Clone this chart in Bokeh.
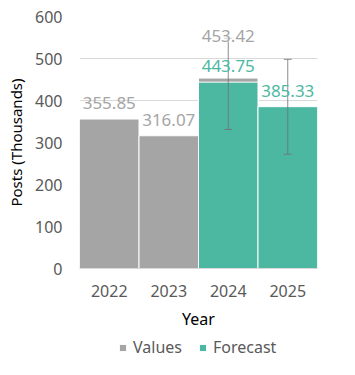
from bokeh.plotting import figure
from bokeh.layouts import column
from bokeh.models import (ColumnDataSource, FactorRange, Range1d,
                          Legend, LegendItem, FixedTicker)
from bokeh.core.properties import value
from bokeh.embed import file_html
from bokeh.resources import INLINE

years = ["2022", "2023", "2024", "2025"]
value_years = ["2022", "2023", "2024"]
value_vals = [355.85, 316.07, 453.42]
forecast_years = ["2024", "2025"]
forecast_vals = [443.75, 385.33]
forecast_lower = [331, 272]
forecast_upper = [548, 498]
y_ticks = [0, 100, 200, 300, 400, 500, 600]
series_names = ["Values", "Forecast"]

GRAY = "#a5a5a5"
TEAL = "#4db8a2"
WHISK = "#707070"
FONT = "Noto Sans"

p = figure(x_range=FactorRange(factors=years, range_padding=0),
           y_range=Range1d(0, 600),
           frame_width=238, frame_height=252,
           output_backend="svg", toolbar_location=None,
           min_border_left=79, min_border_right=38, min_border_top=16,
           min_border_bottom=66)
p.outline_line_color = None
p.background_fill_color = "white"
p.border_fill_color = "white"

vsrc = ColumnDataSource(dict(x=value_years, top=value_vals))
fsrc = ColumnDataSource(dict(x=forecast_years, top=forecast_vals,
                             lab=[f"{v:.2f}" for v in forecast_vals],
                             lower=forecast_lower, upper=forecast_upper))

rv = p.vbar(x="x", top="top", width=1.0, source=vsrc, fill_color=GRAY,
            line_color="white", line_width=1)
rf = p.vbar(x="x", top="top", width=1.0, source=fsrc, fill_color=TEAL,
            line_color="white", line_width=1)

# error bars (drawn as glyphs so labels sit on top)
p.segment(x0="x", y0="lower", x1="x", y1="upper", source=fsrc,
          line_color=WHISK, line_alpha=0.8, line_width=1)
p.scatter(x="x", y="upper", source=fsrc, marker="dash", size=8,
          line_color=WHISK, line_alpha=0.8, line_width=1)
p.scatter(x="x", y="lower", source=fsrc, marker="dash", size=8,
          line_color=WHISK, line_alpha=0.8, line_width=1)

# value labels
vsrc_a = ColumnDataSource(dict(x=value_years[:2], y=value_vals[:2],
                               lab=[f"{v:.2f}" for v in value_vals[:2]]))
vsrc_b = ColumnDataSource(dict(x=value_years[2:], y=value_vals[2:],
                               lab=[f"{v:.2f}" for v in value_vals[2:]]))
common = dict(text_align="center", text_baseline="middle",
              text_font=value(FONT), text_font_size=value("17px"))
p.text(x="x", y="y", text="lab", source=vsrc_a, y_offset=-16,
       text_color=GRAY, **common)
p.text(x="x", y="y", text="lab", source=vsrc_b, y_offset=-42,
       text_color=GRAY, background_fill_color="white", background_fill_alpha=0.6,
       **common)
p.text(x="x", y="top", text="lab", source=fsrc, y_offset=-16,
       text_color=TEAL, **common)

# grid & axes
p.xgrid.grid_line_color = None
p.ygrid.grid_line_color = "#d9d9d9"
p.ygrid.ticker = FixedTicker(ticks=y_ticks)
p.yaxis.ticker = FixedTicker(ticks=y_ticks)

for ax in (p.xaxis, p.yaxis):
    ax.major_tick_line_color = None
    ax.minor_tick_line_color = None
    ax.major_tick_out = 0
    ax.major_tick_in = 0
    ax.minor_tick_out = 0
    ax.major_label_text_font = FONT
    ax.major_label_text_font_size = "16px"
    ax.major_label_text_color = "#595959"
    ax.axis_label_text_font = FONT
    ax.axis_label_text_font_style = "normal"
    ax.axis_label_text_color = "black"

p.yaxis.axis_line_color = None
p.yaxis.major_label_standoff = 17
p.yaxis.axis_label = "Posts (Thousands)"
p.yaxis.axis_label_text_font_size = "15px"
p.yaxis.axis_label_standoff = 6

p.xaxis.axis_line_color = "#d9d9d9"
p.xaxis.major_label_standoff = 16
p.xaxis.axis_label = "Year"
p.xaxis.axis_label_text_font_size = "16px"
p.xaxis.axis_label_standoff = 8

# legend in its own strip below the chart (dummy swatch renderers kept off-range)
lf = figure(width=355, height=41, x_range=Range1d(0, 1), y_range=Range1d(0, 1),
            output_backend="svg", toolbar_location=None,
            x_axis_type=None, y_axis_type=None,
            min_border_left=0, min_border_right=0, min_border_top=0,
            min_border_bottom=0)
lf.outline_line_color = None
lf.xgrid.grid_line_color = None
lf.ygrid.grid_line_color = None
lv = lf.vbar(x=[-10], top=[-10], width=1, fill_color=GRAY, line_color="white")
lfc = lf.vbar(x=[-10], top=[-10], width=1, fill_color=TEAL, line_color="white")
legend = Legend(items=[LegendItem(label=series_names[0], renderers=[lv]),
                       LegendItem(label=series_names[1], renderers=[lfc])],
                orientation="horizontal", location=(39, 17),
                border_line_color=None, background_fill_alpha=0,
                label_text_font=FONT, label_text_font_size="16px",
                label_text_color="#595959",
                glyph_width=9, glyph_height=9, label_standoff=6, spacing=16,
                padding=2, margin=0)
lf.add_layout(legend)

layout = column(p, lf, spacing=0)
open("out.html", "w").write(file_html(layout, INLINE))
